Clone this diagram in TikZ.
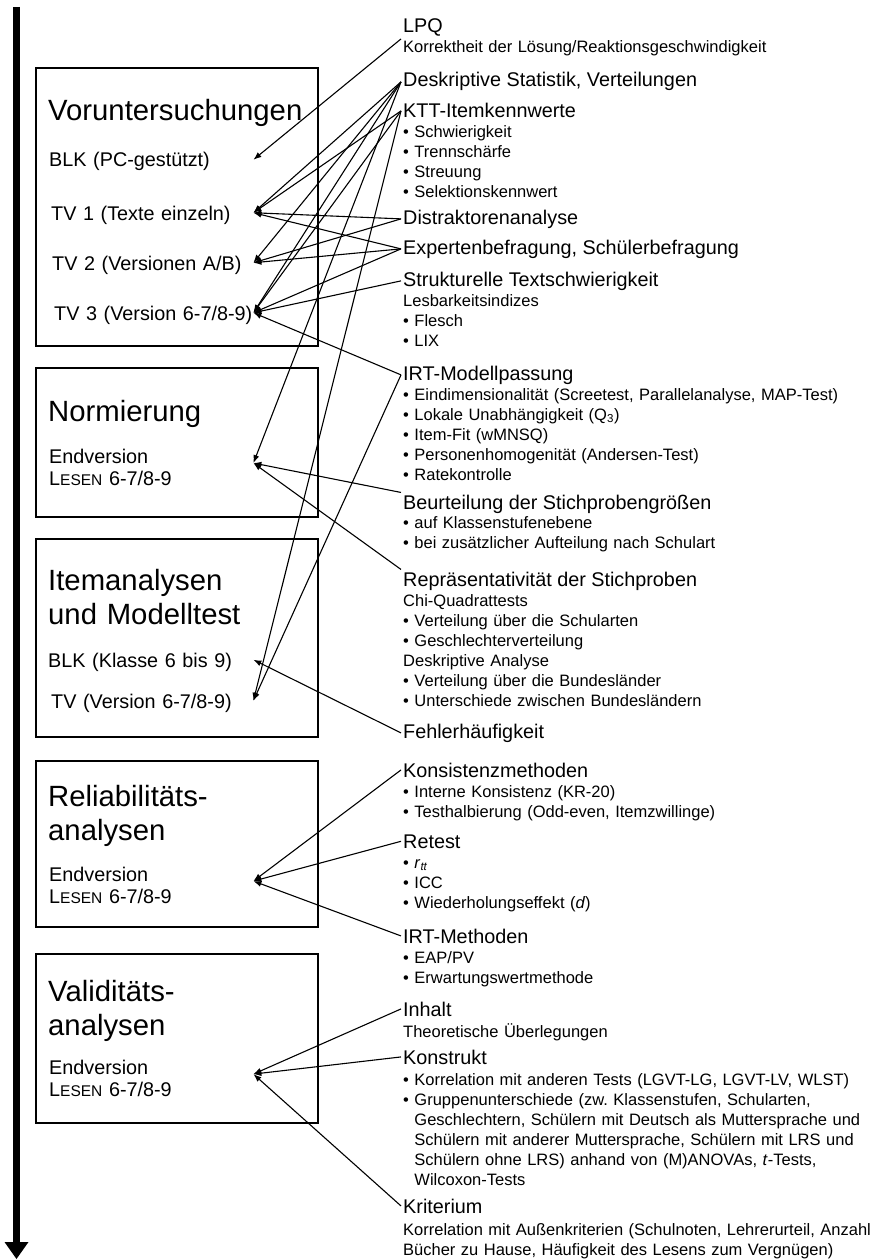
\documentclass[tikz,border=0pt]{standalone}
\usepackage{fontspec}
\setmainfont{Liberation Sans}
\usepackage{tikz}
\usetikzlibrary{arrows.meta}
\tikzstyle{phase} = [rectangle, draw, line width=2pt, anchor=north west,
    inner sep=0pt, minimum width=282pt]
\tikzstyle{title} = [anchor=base west, inner sep=0pt, text width=265pt,
    align=left, font=\fontsize{29.3}{34}\selectfont]
\tikzstyle{entry} = [anchor=base west, inner sep=0pt, text height=14.5pt,
    text depth=0pt, font=\fontsize{19.8}{22}\selectfont]
\tikzstyle{version} = [anchor=base west, inner sep=0pt, align=left,
    text depth=14.5pt, font=\fontsize{19.8}{22}\selectfont]
\tikzstyle{topic} = [anchor=base west, inner sep=2pt,
    font=\fontsize{19.8}{22}\selectfont]
\tikzstyle{detail} = [anchor=base west, inner sep=0pt, text width=470pt,
    align=left, font=\fontsize{16.5}{20}\selectfont]
\tikzstyle{line} = [draw, line width=1.1pt, -{Latex[length=8pt,width=6pt]}]
\tikzstyle{timeline} = [draw, line width=6.5pt,
    -{Triangle[length=17pt,width=24pt,line width=0pt]}]
\newcommand{\lesen}{L{\fontsize{15.5}{15.5}\selectfont ESEN} 6-7/8-9}

\begin{document}
\begin{tikzpicture}[x=1pt, y=-1pt]
    \useasboundingbox (0,0) rectangle (871,1260);
    % Time axis
    \coordinate (tstart) at (16.5,7);
    \coordinate (tend) at (16.5,1259);
    \path [timeline] (tstart) -- (tend);
    % Phases
    \node [phase, minimum height=278pt] (vorbox) at (35,67) {};
    \node [phase, minimum height=149pt] (normbox) at (35,367) {};
    \node [phase, minimum height=198pt] (itembox) at (35,538) {};
    \node [phase, minimum height=166pt] (relbox) at (35,760) {};
    \node [phase, minimum height=169pt] (valbox) at (35,953) {};
    \node [title] (vortitle) at (48,121) {Voruntersuchungen};
    \node [title] (normtitle) at (48,421) {Normierung};
    \node [title] (itemtitle) at (48,590) {Itemanalysen\\und Modelltest};
    \node [title] (reltitle) at (48,806) {Reliabilitäts-\\analysen};
    \node [title] (valtitle) at (48,1001) {Validitäts-\\analysen};
    % Studies inside the phases
    \node [entry, text width=204pt] (blkpc) at (49,167) {BLK (PC-gestützt)};
    \node [entry, text width=202pt] (tv1) at (51,220) {TV 1 (Texte einzeln)};
    \node [entry, text width=201pt] (tv2) at (52,270) {TV 2 (Versionen A/B)};
    \node [entry, text width=199pt] (tv3) at (54,320) {TV 3 (Version 6-7/8-9)};
    \node [version, text width=204pt] (endnorm) at (49,463) {Endversion\\\lesen};
    \node [entry, text width=205pt] (blkitem) at (48,667) {BLK (Klasse 6 bis 9)};
    \node [entry, text width=202pt] (tvitem) at (51,708) {TV (Version 6-7/8-9)};
    \node [version, text width=204pt] (endrel) at (49,881) {Endversion\\\lesen};
    \node [version, text width=204pt] (endval) at (49,1074) {Endversion\\\lesen};
    % Methods
    \node [topic] (lpq) at (401,33) {LPQ};
    \node [detail] (lpqd) at (403,53) {Korrektheit der Lösung/Reaktionsgeschwindigkeit};
    \node [topic] (desk) at (401,87) {Deskriptive Statistik, Verteilungen};
    \node [topic] (ktt) at (401,118) {KTT-Itemkennwerte};
    \node [detail] (kttd) at (403,138) {\textbullet\ Schwierigkeit\\
        \textbullet\ Trennschärfe\\ \textbullet\ Streuung\\
        \textbullet\ Selektionskennwert};
    \node [topic] (distr) at (401,224) {Distraktorenanalyse};
    \node [topic] (expert) at (401,254) {Expertenbefragung, Schülerbefragung};
    \node [topic] (struk) at (401,286) {Strukturelle Textschwierigkeit};
    \node [detail] (strukd) at (403,306) {Lesbarkeitsindizes\\
        \textbullet\ Flesch\\ \textbullet\ LIX};
    \node [topic] (irtmod) at (401,380) {IRT-Modellpassung};
    \node [detail] (irtmodd) at (403,400) {%
        \textbullet\ Eindimensionalität (Screetest, Parallelanalyse, MAP-Test)\\
        \textbullet\ Lokale Unabhängigkeit (Q\textsubscript{3})\\
        \textbullet\ Item-Fit (wMNSQ)\\
        \textbullet\ Personenhomogenität (Andersen-Test)\\
        \textbullet\ Ratekontrolle};
    \node [topic] (beurt) at (401,509) {Beurteilung der Stichprobengrößen};
    \node [detail] (beurtd) at (403,528) {\textbullet\ auf Klassenstufenebene\\
        \textbullet\ bei zusätzlicher Aufteilung nach Schulart};
    \node [topic] (repr) at (401,586) {Repräsentativität der Stichproben};
    \node [detail] (reprd) at (403,606) {Chi-Quadrattests\\
        \textbullet\ Verteilung über die Schularten\\
        \textbullet\ Geschlechterverteilung\\
        Deskriptive Analyse\\
        \textbullet\ Verteilung über die Bundesländer\\
        \textbullet\ Unterschiede zwischen Bundesländern};
    \node [topic] (fehler) at (401,738) {Fehlerhäufigkeit};
    \node [topic] (konsist) at (401,777) {Konsistenzmethoden};
    \node [detail] (konsistd) at (403,797) {\textbullet\ Interne Konsistenz (KR-20)\\
        \textbullet\ Testhalbierung (Odd-even, Itemzwillinge)};
    \node [topic] (retest) at (401,848) {Retest};
    \node [detail] (retestd) at (403,868) {\textbullet\ \textit{r}\textsubscript{\textit{tt}}\\
        \textbullet\ ICC\\ \textbullet\ Wiederholungseffekt (\textit{d})};
    \node [topic] (irtmeth) at (401,943) {IRT-Methoden};
    \node [detail] (irtmethd) at (403,963) {\textbullet\ EAP/PV\\
        \textbullet\ Erwartungswertmethode};
    \node [topic] (inhalt) at (401,1016) {Inhalt};
    \node [detail] (inhaltd) at (403,1037) {Theoretische Überlegungen};
    \node [topic] (konstrukt) at (401,1064) {Konstrukt};
    \node [detail] (konstruktd) at (403,1085) {%
        \textbullet\ Korrelation mit anderen Tests (LGVT-LG, LGVT-LV, WLST)\\
        \textbullet\ Gruppenunterschiede (zw.\ Klassenstufen, Schularten,\\
        \phantom{\textbullet\ }Geschlechtern, Schülern mit Deutsch als Muttersprache und\\
        \phantom{\textbullet\ }Schülern mit anderer Muttersprache, Schülern mit LRS und\\
        \phantom{\textbullet\ }Schülern ohne LRS) anhand von (M)ANOVAs, \textit{t}-Tests,\\
        \phantom{\textbullet\ }Wilcoxon-Tests};
    \node [topic] (krit) at (401,1213) {Kriterium};
    \node [detail] (kritd) at (403,1235) {%
        Korrelation mit Außenkriterien (Schulnoten, Lehrerurteil, Anzahl\\
        Bücher zu Hause, Häufigkeit des Lesens zum Vergnügen)};
    % Edges
    \path [line] (lpq.south west) -- (blkpc.east);
    \path [line] (desk.west) -- (tv1.east);
    \path [line] (desk.west) -- (tv2.east);
    \path [line] (desk.west) -- (tv3.east);
    \path [line] (desk.west) -- (endnorm.east);
    \path [line] (ktt.west) -- (tv1.east);
    \path [line] (ktt.west) -- (tv3.east);
    \path [line] (ktt.west) -- (tvitem.east);
    \path [line] (distr.west) -- (tv1.east);
    \path [line] (distr.west) -- (tv2.east);
    \path [line] (expert.west) -- (tv1.east);
    \path [line] (expert.west) -- (tv2.east);
    \path [line] (expert.west) -- (tv3.east);
    \path [line] (struk.west) -- (tv3.east);
    \path [line] (irtmod.west) -- (tv3.east);
    \path [line] (irtmod.west) -- (tvitem.east);
    \path [line] (beurt.north west) -- (endnorm.east);
    \path [line] (repr.north west) -- (endnorm.east);
    \path [line] (fehler.west) -- (blkitem.east);
    \path [line] (konsist.west) -- (endrel.east);
    \path [line] (retest.west) -- (endrel.east);
    \path [line] (irtmeth.west) -- (endrel.east);
    \path [line] (inhalt.west) -- (endval.east);
    \path [line] (konstrukt.west) -- (endval.east);
    \path [line] (krit.west) -- (endval.east);
\end{tikzpicture}
\end{document}
